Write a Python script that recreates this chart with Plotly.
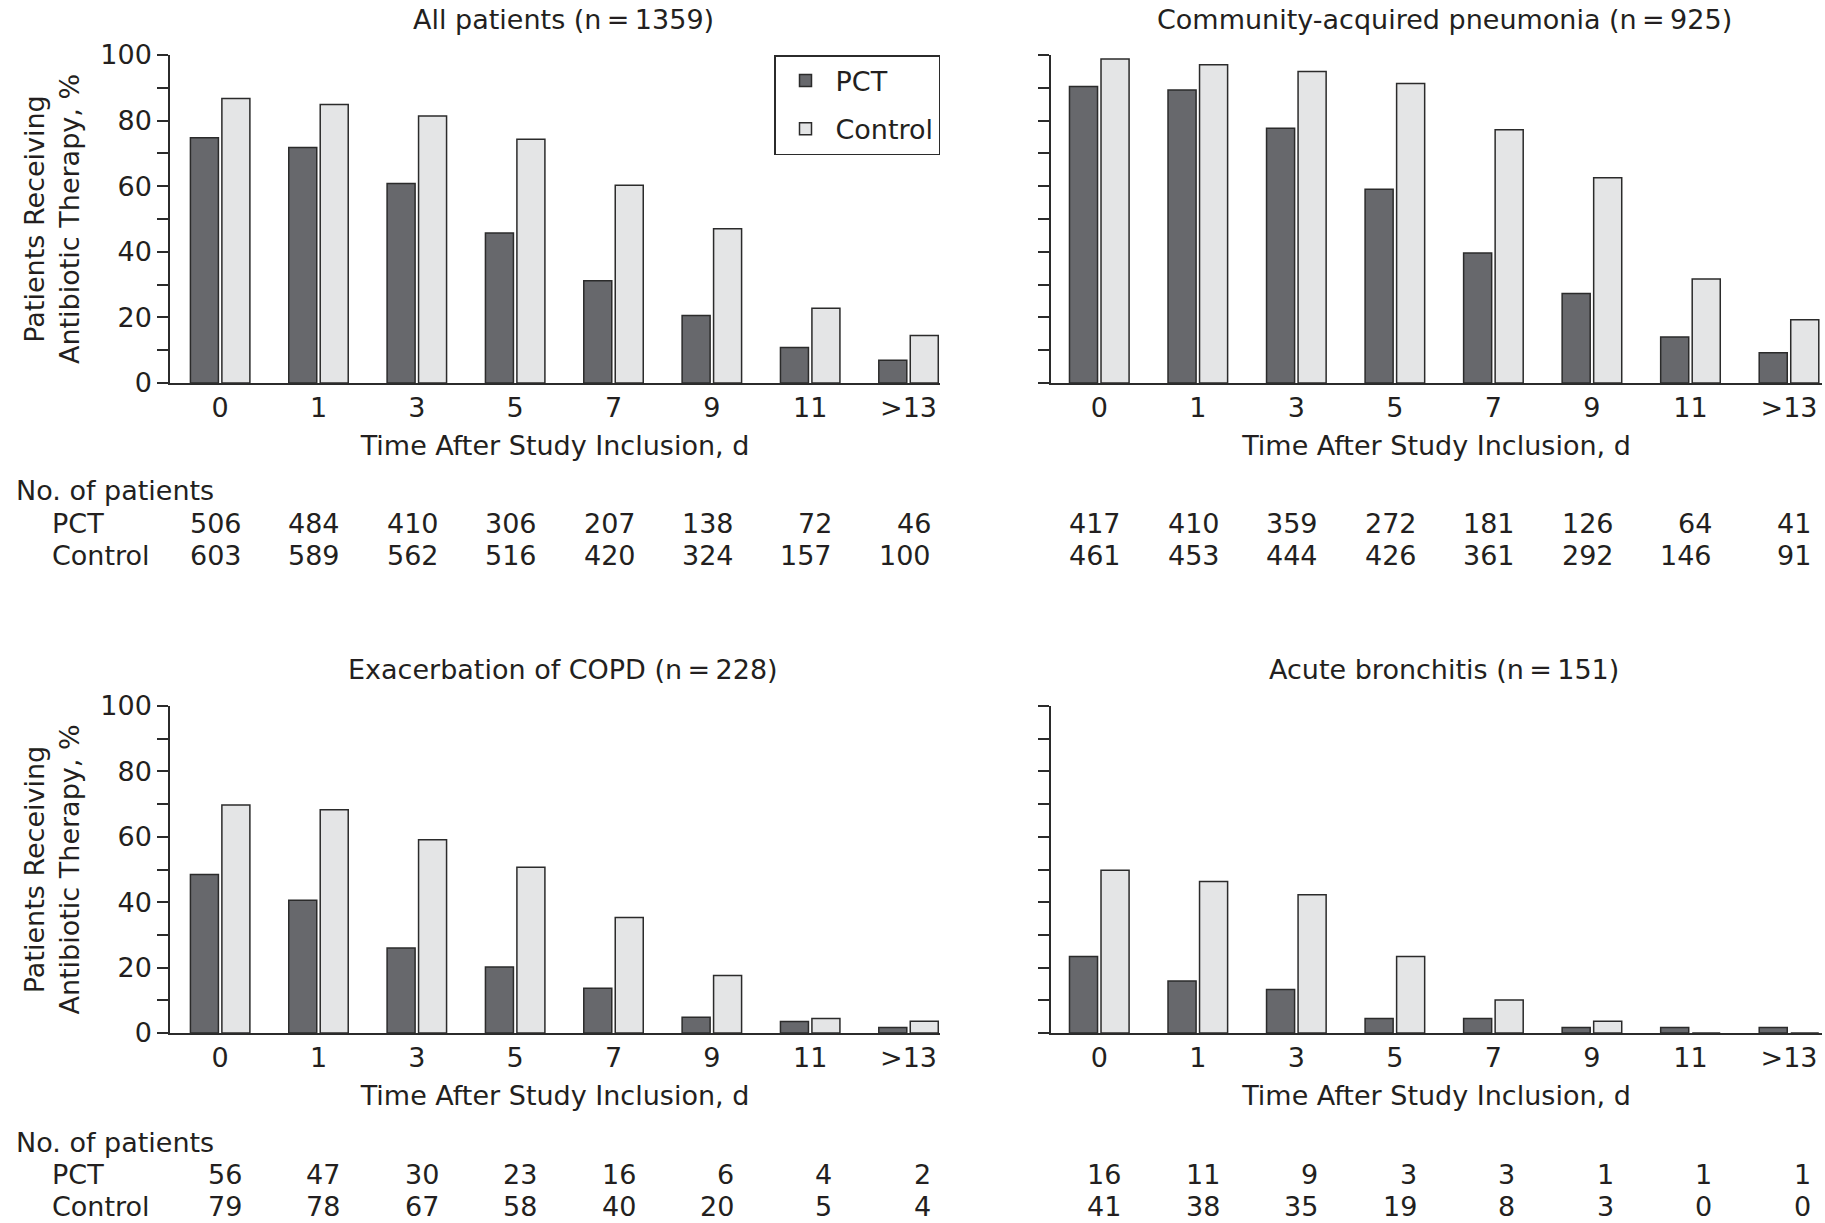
import plotly.graph_objects as go

# ---------------- data ----------------
days = ["0", "1", "3", "5", "7", "9", "11", ">13"]
y_tickvals = [0, 10, 20, 30, 40, 50, 60, 70, 80, 90, 100]
y_ticktext = ["0", "", "20", "", "40", "", "60", "", "80", "", "100"]

titles = [
    "All patients (n\u2009=\u20091359)",
    "Community-acquired pneumonia (n\u2009=\u2009925)",
    "Exacerbation of COPD (n\u2009=\u2009228)",
    "Acute bronchitis (n\u2009=\u2009151)",
]

all_pct = [74.8, 71.8, 60.8, 45.7, 31.2, 20.6, 10.8, 6.9]
all_ctl = [86.7, 84.9, 81.4, 74.3, 60.3, 47.0, 22.8, 14.5]
cap_pct = [90.4, 89.3, 77.7, 59.1, 39.6, 27.3, 14.0, 9.2]
cap_ctl = [98.8, 97.0, 95.0, 91.3, 77.2, 62.6, 31.7, 19.3]
copd_pct = [48.5, 40.6, 26.0, 20.2, 13.7, 4.8, 3.5, 1.7]
copd_ctl = [69.7, 68.3, 59.1, 50.7, 35.3, 17.6, 4.4, 3.6]
ab_pct = [23.4, 15.9, 13.3, 4.4, 4.4, 1.7, 1.7, 1.7]
ab_ctl = [49.8, 46.3, 42.3, 23.4, 10.1, 3.6, 0, 0]

all_n_pct = [506, 484, 410, 306, 207, 138, 72, 46]
all_n_ctl = [603, 589, 562, 516, 420, 324, 157, 100]
cap_n_pct = [417, 410, 359, 272, 181, 126, 64, 41]
cap_n_ctl = [461, 453, 444, 426, 361, 292, 146, 91]
copd_n_pct = [56, 47, 30, 23, 16, 6, 4, 2]
copd_n_ctl = [79, 78, 67, 58, 40, 20, 5, 4]
ab_n_pct = [16, 11, 9, 3, 3, 1, 1, 1]
ab_n_ctl = [41, 38, 35, 19, 8, 3, 0, 0]

series_names = ["PCT", "Control"]
table_header = "No. of patients"
x_title = "Time After Study Inclusion, d"
y_title = "Patients Receiving<br>Antibiotic Therapy, %"

# ---------------- style ----------------
W, H = 1825, 1223
FONT = "DejaVu Sans, Liberation Sans, Arial, sans-serif"
TEXT = "#231f20"
EDGE = "#2b2b2b"
PCT_COLOR = "#67686c"
CTL_COLOR = "#e4e5e6"
FS = 27

def px_x(p):
    return p / W

def px_y(p):
    return 1 - p / H

xdom = [[px_x(170), px_x(940)], [px_x(1051), px_x(1822)]]
ydom = [[px_y(383), px_y(55)], [px_y(1033), px_y(706)]]

panels = [
    (all_pct, all_ctl, all_n_pct, all_n_ctl, 0, 0),
    (cap_pct, cap_ctl, cap_n_pct, cap_n_ctl, 1, 0),
    (copd_pct, copd_ctl, copd_n_pct, copd_n_ctl, 0, 1),
    (ab_pct, ab_ctl, ab_n_pct, ab_n_ctl, 1, 1),
]

fig = go.Figure()
annotations = []
layout_axes = {}

title_y = [px_y(20), px_y(669)]
title_x = [px_x(563), px_x(1444)]
table_rows = [
    (px_y(490), px_y(524), px_y(555)),
    (px_y(1142), px_y(1174), px_y(1206)),
]

for i, (pct, ctl, npct, nctl, col, row) in enumerate(panels):
    s = "" if i == 0 else str(i + 1)
    xa, ya = "x" + s, "y" + s
    fig.add_trace(go.Bar(
        x=days, y=pct, name=series_names[0], xaxis=xa, yaxis=ya,
        marker=dict(color=PCT_COLOR, line=dict(color=EDGE, width=1.5)),
        legendgroup="pct", showlegend=(i == 0), offsetgroup="pct",
    ))
    fig.add_trace(go.Bar(
        x=days, y=ctl, name=series_names[1], xaxis=xa, yaxis=ya,
        marker=dict(color=CTL_COLOR, line=dict(color=EDGE, width=1.5)),
        legendgroup="ctl", showlegend=(i == 0), offsetgroup="ctl",
    ))
    layout_axes["xaxis" + s] = dict(
        domain=xdom[col], anchor=ya, type="category", automargin=False,
        range=[-0.51, 7.32] if col == 0 else [-0.49, 7.335],
        showline=True, linecolor=EDGE, linewidth=1.5, ticks="",
        showgrid=False, zeroline=False,
        tickfont=dict(family=FONT, size=FS, color=TEXT),
        title=dict(text=x_title, font=dict(family=FONT, size=FS, color=TEXT), standoff=14),
    )
    layout_axes["yaxis" + s] = dict(
        domain=ydom[row], anchor=xa, range=[0, 100], automargin=False,
        tickmode="array", tickvals=y_tickvals, ticktext=y_ticktext,
        showticklabels=(col == 0),
        ticks="outside", ticklen=11, tickwidth=1.5, tickcolor=EDGE,
        showline=True, linecolor=EDGE, linewidth=1.5,
        showgrid=False, zeroline=False,
        tickfont=dict(family=FONT, size=FS, color=TEXT),
        title=dict(text=y_title if col == 0 else "",
                   font=dict(family=FONT, size=FS, color=TEXT), standoff=13),
    )
    annotations.append(dict(
        text=titles[i], x=title_x[col], y=title_y[row], xref="paper", yref="paper",
        xanchor="center", yanchor="middle", showarrow=False,
        font=dict(family=FONT, size=FS, color=TEXT),
    ))
    hy, py, cy = table_rows[row]
    if col == 0:
        annotations.append(dict(text=table_header, x=px_x(14), y=hy, xref="paper", yref="paper",
                                xanchor="left", yanchor="middle", showarrow=False,
                                font=dict(family=FONT, size=FS, color=TEXT)))
        for lab, yy in zip(series_names, (py, cy)):
            annotations.append(dict(text=lab, x=px_x(50), y=yy, xref="paper", yref="paper",
                                    xanchor="left", yanchor="middle", showarrow=False,
                                    font=dict(family=FONT, size=FS, color=TEXT)))
    for vals, yy in ((npct, py), (nctl, cy)):
        for k, v in enumerate(vals):
            annotations.append(dict(text=str(v), x=k, y=yy, xref=xa, yref="paper",
                                    xanchor="right", yanchor="middle", xshift=24,
                                    showarrow=False,
                                    font=dict(family=FONT, size=FS, color=TEXT)))

fig.update_layout(
    width=W, height=H, autosize=False,
    margin=dict(l=0, r=0, t=0, b=0, pad=0, autoexpand=False),
    paper_bgcolor="white", plot_bgcolor="white",
    barmode="group", bargap=0.36, bargroupgap=0.11,
    font=dict(family=FONT, size=FS, color=TEXT),
    legend=dict(
        x=px_x(940), y=px_y(55), xanchor="right", yanchor="top",
        bordercolor=EDGE, borderwidth=1.5, bgcolor="white", itemwidth=50,
        font=dict(family=FONT, size=FS, color=TEXT),
    ),
    annotations=annotations,
    **layout_axes,
)

fig.write_html(
    "out.html",
    config={"displayModeBar": False},
    post_script="document.body.style.margin='0';document.body.style.overflow='hidden';",
)
